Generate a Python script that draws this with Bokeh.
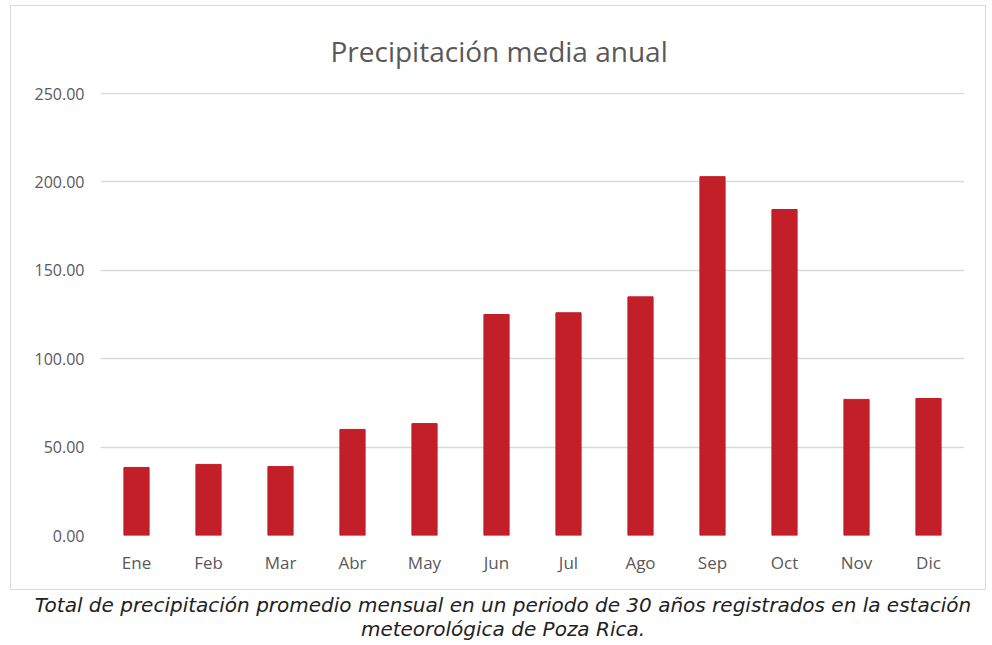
from bokeh.plotting import figure
from bokeh.models import ColumnDataSource, Div, SingleIntervalTicker, NumeralTickFormatter
from bokeh.layouts import column
from bokeh.embed import file_html
from bokeh.resources import INLINE

months = ["Ene", "Feb", "Mar", "Abr", "May", "Jun", "Jul", "Ago", "Sep", "Oct", "Nov", "Dic"]
precip = [38.5, 40.2, 39.0, 60.0, 63.3, 125.0, 126.0, 135.0, 203.0, 184.4, 77.0, 77.5]
title_text = "Precipitación media anual"
caption_text = ("Total de precipitación promedio mensual en un periodo de 30 años registrados en la estación<br>"
                "meteorológica de Poza Rica.")

src = ColumnDataSource(dict(m=months, v=precip))

p = figure(x_range=months, y_range=(0, 250.6), width=976, height=585,
           output_backend="svg", toolbar_location=None,
           min_border_left=89, min_border_right=23, min_border_top=86, min_border_bottom=56)
p.vbar(x="m", top="v", width=0.35, source=src, color="#C21F28")

p.title.text = title_text
p.title.align = "left"
p.title.text_font = "Open Sans"
p.title.text_font_size = "28px"
p.title.text_font_style = "normal"
p.title.text_color = "#595959"
p.title.text_line_height = 0.9
p.title.offset = 230
p.title.standoff = 45

p.outline_line_color = None
p.xgrid.grid_line_color = None
p.ygrid.grid_line_color = "#D9D9D9"
p.ygrid.grid_line_width = 1.5
p.yaxis.ticker = SingleIntervalTicker(interval=50)
p.yaxis.formatter = NumeralTickFormatter(format="0.00")
for ax in (p.xaxis[0], p.yaxis[0]):
    ax.axis_line_color = None
    ax.major_tick_line_color = None
    ax.minor_tick_line_color = None
    ax.major_label_text_font = "Open Sans"
    ax.major_label_text_font_size = "16px"
    ax.major_label_text_color = "#595959"
p.xaxis.major_label_text_font_size = "17px"
p.yaxis.major_label_standoff = 10
p.xaxis.major_label_standoff = 9
p.styles = {"border": "1px solid #D9D9D9"}

cap = Div(text=caption_text, width=976, height=52,
          styles={"font-family": "'DejaVu Sans'", "font-style": "italic", "font-size": "20px",
                  "color": "#222222", "text-align": "center", "line-height": "24px",
                  "width": "976px", "margin-top": "3px"})

layout = column(p, cap, spacing=0, margin=(5, 0, 0, 10))
open("out.html", "w").write(file_html(layout, INLINE))
